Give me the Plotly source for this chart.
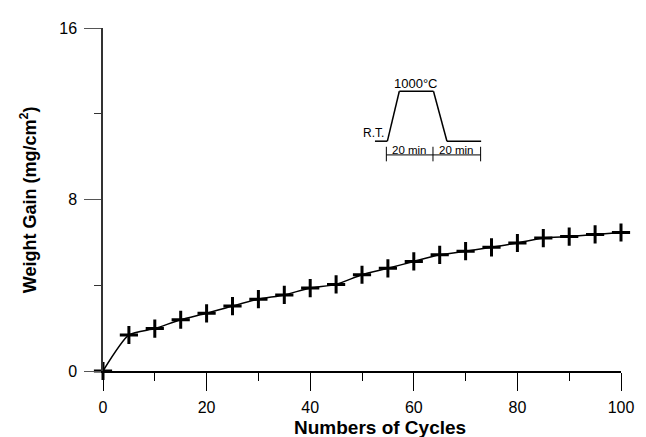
import plotly.graph_objects as go

cycles = [0, 5, 10, 15, 20, 25, 30, 35, 40, 45, 50, 55, 60, 65, 70, 75, 80, 85, 90, 95, 100]
weight_gain = [0.0, 1.68, 1.98, 2.39, 2.69, 3.03, 3.35, 3.55, 3.87, 4.04, 4.49, 4.79, 5.11,
               5.42, 5.59, 5.77, 5.97, 6.20, 6.27, 6.37, 6.46]

x_ticks = [0, 20, 40, 60, 80, 100]
y_ticks = [0, 8, 16]

FONT = "Liberation Sans, Arial, sans-serif"

fig = go.Figure()
fig.add_trace(go.Scatter(
    x=cycles, y=weight_gain, mode="lines+markers",
    line=dict(color="black", width=1.5, shape="spline", smoothing=0.6),
    marker=dict(symbol="cross-thin", size=13, line=dict(color="black", width=3)),
    cliponaxis=False, showlegend=False,
))

# inset: thermal cycle schematic (in data units of the main axes)
def seg(x0, y0, x1, y1, w=1.5):
    fig.add_shape(type="line", x0=x0, y0=y0, x1=x1, y1=y1, xref="x", yref="y",
                  line=dict(color="black", width=w))

seg(52.5, 10.72, 54.9, 10.72)
seg(54.9, 10.72, 57.2, 13.05)
seg(57.2, 13.05, 63.8, 13.05)
seg(63.8, 13.05, 66.4, 10.72)
seg(66.4, 10.72, 73.0, 10.72)
seg(54.7, 10.08, 72.9, 10.08, 1)
for bx in (54.7, 63.7, 72.9):
    seg(bx, 9.78, bx, 10.46, 1)

inset_text = [
    ("1000°C", 60.4, 13.0, 13, "center"),
    ("R.T.", 54.4, 10.72, 12, "right"),
    ("20 min", 59.2, 10.0, 11.5, "center"),
    ("20 min", 68.3, 10.0, 11.5, "center"),
]
annotations = []
for t, ax_, ay_, fs, xa in inset_text:
    annotations.append(dict(text=t, x=ax_, y=ay_, xref="x", yref="y", showarrow=False,
                            xanchor=xa, yanchor="bottom", borderpad=0,
                            font=dict(family=FONT, size=fs, color="black")))

annotations.append(dict(text="<b>Numbers of Cycles</b>", x=0.534, y=-0.1636, xref="paper", yref="paper",
                        showarrow=False, xanchor="center", yanchor="middle",
                        font=dict(family=FONT, size=19, color="black")))
annotations.append(dict(text="<b>Weight Gain (mg/cm<sup>2</sup>)</b>", x=-0.1433, y=0.5, xref="paper", yref="paper",
                        showarrow=False, xanchor="center", yanchor="middle", textangle=-90,
                        font=dict(family=FONT, size=18, color="black")))

# page body has an 8px margin, so the figure is sized/offset to compensate
fig.update_layout(
    width=638, height=429,
    margin=dict(l=95, r=15, t=13, b=66),
    paper_bgcolor="white", plot_bgcolor="white",
    font=dict(family=FONT, size=16, color="black"),
    annotations=annotations,
    xaxis=dict(range=[0, 100], tickvals=x_ticks, showgrid=False, zeroline=False,
               showline=True, linecolor="black", linewidth=2,
               ticks="outside", ticklen=18, tickwidth=1, tickcolor="black",
               ticklabelstandoff=3,
               minor=dict(dtick=10, ticks="outside", ticklen=8, tickwidth=1, tickcolor="black"),
               tickfont=dict(size=16, family=FONT)),
    yaxis=dict(range=[0, 16], tickvals=y_ticks, showgrid=False, zeroline=False,
               showline=True, linecolor="#333", linewidth=1.5,
               ticks="outside", ticklen=17, tickwidth=1, tickcolor="#555",
               ticklabelstandoff=4,
               minor=dict(dtick=4, ticks="outside", ticklen=7, tickwidth=1, tickcolor="#333"),
               tickfont=dict(size=16, family=FONT)),
)

fig.write_html("out.html")
